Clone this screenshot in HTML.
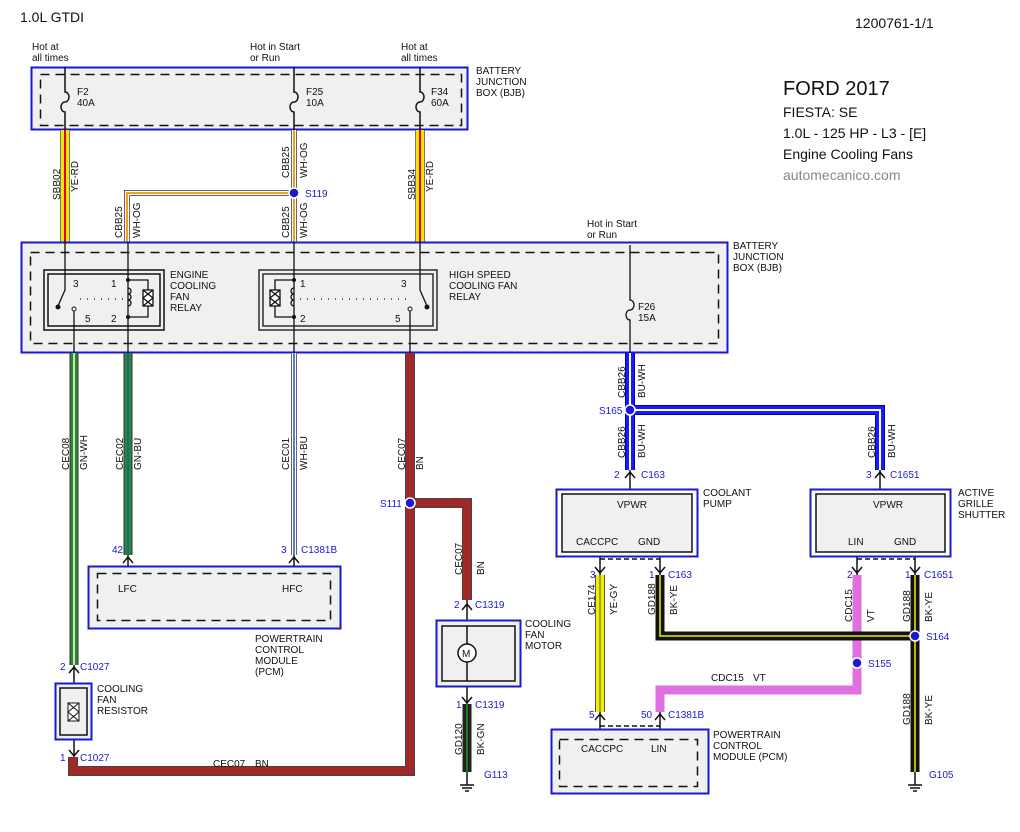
<!DOCTYPE html>
<html><head><meta charset="utf-8"><style>
html,body{margin:0;padding:0;background:#fff}
svg{display:block}
text{font-family:"Liberation Sans",sans-serif;font-size:10px;fill:#111}
.b{fill:#1a1ad0}
.t{font-size:20px}
.m{font-size:14px}
</style></head><body>
<svg width="1020" height="832" viewBox="0 0 1020 832" xmlns="http://www.w3.org/2000/svg">
<text x="20" y="22" class="m">1.0L GTDI</text>
<text x="855" y="28" class="m">1200761-1/1</text>
<text x="783" y="95" class="t">FORD 2017</text>
<text x="783" y="117" class="m">FIESTA: SE</text>
<text x="783" y="138" class="m">1.0L - 125 HP - L3 - [E]</text>
<text x="783" y="159" class="m">Engine Cooling Fans</text>
<text x="783" y="180" class="m" style="fill:#888">automecanico.com</text>

<rect x="31.5" y="67.5" width="436" height="62" fill="#f0f0f0" stroke="#1a1ad0" stroke-width="2"/>
<rect x="40.5" y="74.5" width="421" height="51" fill="none" stroke="#111" stroke-width="1.5" stroke-dasharray="9,6"/>
<text x="32" y="50">Hot at</text><text x="32" y="61">all times</text>
<text x="250" y="50">Hot in Start</text><text x="250" y="61">or Run</text>
<text x="401" y="50">Hot at</text><text x="401" y="61">all times</text>
<text x="476" y="74">BATTERY</text><text x="476" y="85">JUNCTION</text><text x="476" y="96">BOX (BJB)</text>
<text x="77" y="95">F2</text><text x="77" y="106">40A</text>
<text x="306" y="95">F25</text><text x="306" y="106">10A</text>
<text x="431" y="95">F34</text><text x="431" y="106">60A</text>
<g stroke="#111" stroke-width="1.5" fill="none">
<path d="M65 67V92a4 5 0 0 1 0 10a4 5 0 0 0 0 10V130"/>
<path d="M294 67V92a4 5 0 0 1 0 10a4 5 0 0 0 0 10V130"/>
<path d="M420 67V92a4 5 0 0 1 0 10a4 5 0 0 0 0 10V130"/>
</g>

<g fill="none">
<path d="M65 130V242M420 130V242" stroke="#777" stroke-width="10"/>
<path d="M65 130V242M420 130V242" stroke="#f5e600" stroke-width="8"/>
<path d="M65 130V242M420 130V242" stroke="#e00000" stroke-width="2"/>
<path d="M294 130V242M294 193H127V242" stroke="#333" stroke-width="6"/>
<path d="M294 130V242M294 193H127V242" stroke="#fff" stroke-width="4.5"/>
<path d="M294 130V242M294 193H127V242" stroke="#f0a020" stroke-width="2"/>
</g>
<circle cx="294" cy="193" r="5" fill="#1a1ad0" stroke="#fff" stroke-width="1.5"/>
<text x="305" y="197" class="b">S119</text>
<g font-size="10">
<text transform="translate(60,200) rotate(-90)">SBB02</text><text transform="translate(78,192) rotate(-90)">YE-RD</text>
<text transform="translate(415,200) rotate(-90)">SBB34</text><text transform="translate(433,192) rotate(-90)">YE-RD</text>
<text transform="translate(289,178) rotate(-90)">CBB25</text><text transform="translate(307,178) rotate(-90)">WH-OG</text>
<text transform="translate(289,238) rotate(-90)">CBB25</text><text transform="translate(307,238) rotate(-90)">WH-OG</text>
<text transform="translate(122,238) rotate(-90)">CBB25</text><text transform="translate(140,238) rotate(-90)">WH-OG</text>
</g>

<rect x="21.5" y="242.5" width="706" height="110" fill="#f0f0f0" stroke="#1a1ad0" stroke-width="2"/>
<rect x="30.5" y="252.5" width="688" height="91" fill="none" stroke="#111" stroke-width="1.5" stroke-dasharray="9,6"/>
<text x="733" y="249">BATTERY</text><text x="733" y="260">JUNCTION</text><text x="733" y="271">BOX (BJB)</text>
<text x="587" y="227">Hot in Start</text><text x="587" y="238">or Run</text>
<rect x="44" y="270" width="120" height="60" fill="none" stroke="#111" stroke-width="1.5"/>
<rect x="48" y="274" width="112" height="52" fill="none" stroke="#111" stroke-width="1.5"/>
<text x="170" y="278">ENGINE</text><text x="170" y="289">COOLING</text><text x="170" y="300">FAN</text><text x="170" y="311">RELAY</text>
<text x="73" y="287">3</text><text x="111" y="287">1</text><text x="85" y="322">5</text><text x="111" y="322">2</text>
<g stroke="#111" stroke-width="1.3" fill="none">
<path d="M65 242V290L58 306"/><path d="M74 310V353"/><path d="M128 242V353"/>
<path d="M128 280H148V317H128"/><rect x="143" y="290" width="10" height="16" fill="#fff"/>
<path d="M143 290L153 298L143 306M153 290L143 298L153 306"/>
<path d="M128 288a3 3 0 0 1 0 6a3 3 0 0 1 0 6a3 3 0 0 1 0 6"/>
<path d="M80 299H125" stroke-dasharray="1,6"/>
<rect x="259" y="270" width="178" height="60"/><rect x="263" y="274" width="170" height="52"/>
<path d="M294 242V353"/><path d="M420 242V290L427 306"/><path d="M410 310V353"/>
<path d="M294 280H275V317H294"/><rect x="270" y="290" width="10" height="16" fill="#fff"/>
<path d="M270 290L280 298L270 306M280 290L270 298L280 306"/>
<path d="M294 288a3 3 0 0 0 0 6a3 3 0 0 0 0 6a3 3 0 0 0 0 6"/>
<path d="M300 299H408" stroke-dasharray="1,6"/>
<path d="M630 245V300a4 5 0 0 1 0 10a4 5 0 0 0 0 10V353"/>
</g>
<g fill="#111"><circle cx="128" cy="280" r="2"/><circle cx="128" cy="317" r="2"/><circle cx="294" cy="280" r="2"/><circle cx="294" cy="317" r="2"/><circle cx="58" cy="307" r="2.5"/><circle cx="427" cy="307" r="2.5"/></g>
<circle cx="74" cy="309" r="2" fill="#fff" stroke="#111"/><circle cx="410" cy="309" r="2" fill="#fff" stroke="#111"/>
<text x="449" y="278">HIGH SPEED</text><text x="449" y="289">COOLING FAN</text><text x="449" y="300">RELAY</text>
<text x="300" y="287">1</text><text x="401" y="287">3</text><text x="300" y="322">2</text><text x="395" y="322">5</text>
<text x="638" y="310">F26</text><text x="638" y="321">15A</text>

<g fill="none">
<path d="M74 353V665M128 353V555" stroke="#333" stroke-width="9"/>
<path d="M74 353V665" stroke="#2a8a2a" stroke-width="7"/><path d="M74 353V665" stroke="#fff" stroke-width="1.5"/>
<path d="M128 353V555" stroke="#2a8a2a" stroke-width="7"/><path d="M128 353V555" stroke="#2050d0" stroke-width="1.5"/>
<path d="M294 353V555" stroke="#333" stroke-width="6"/><path d="M294 353V555" stroke="#fff" stroke-width="4.5"/><path d="M294 353V555" stroke="#2050d0" stroke-width="1.5"/>
<path d="M410 353V771H73V757M410 503H467V600" stroke="#444" stroke-width="10"/>
<path d="M410 353V771H73V757M410 503H467V600" stroke="#a02828" stroke-width="8"/>
<path d="M467 704V772" stroke="#222" stroke-width="9"/><path d="M467 704V772" stroke="#1a7a1a" stroke-width="2"/>
<path d="M630 353V470M630 410H880V470" stroke="#0000a0" stroke-width="10"/>
<path d="M630 353V470M630 410H880V470" stroke="#1a1aff" stroke-width="8"/>
<path d="M630 353V470M630 410H880V470" stroke="#fff" stroke-width="2"/>
<path d="M600 575V712" stroke="#555" stroke-width="10"/><path d="M600 575V712" stroke="#f0f000" stroke-width="8"/><path d="M600 575V712" stroke="#555" stroke-width="1"/>
<path d="M857 575V690H660V712" stroke="#e070e0" stroke-width="9"/>
<path d="M660 575V636H915M915 575V772" stroke="#111" stroke-width="9"/>
<path d="M660 575V636H915M915 575V772" stroke="#f0f000" stroke-width="1.5"/>
</g>
<circle cx="410" cy="503" r="5" fill="#1a1ad0" stroke="#fff" stroke-width="1.5"/><text x="380" y="507" class="b">S111</text>
<circle cx="630" cy="410" r="5" fill="#1a1ad0" stroke="#fff" stroke-width="1.5"/><text x="599" y="414" class="b">S165</text>
<circle cx="857" cy="663" r="5" fill="#1a1ad0" stroke="#fff" stroke-width="1.5"/><text x="868" y="667" class="b">S155</text>
<circle cx="915" cy="636" r="5" fill="#1a1ad0" stroke="#fff" stroke-width="1.5"/><text x="926" y="640" class="b">S164</text>
<g>
<text transform="translate(69,470) rotate(-90)">CEC08</text><text transform="translate(87,470) rotate(-90)">GN-WH</text>
<text transform="translate(123,470) rotate(-90)">CEC02</text><text transform="translate(141,470) rotate(-90)">GN-BU</text>
<text transform="translate(289,470) rotate(-90)">CEC01</text><text transform="translate(307,470) rotate(-90)">WH-BU</text>
<text transform="translate(405,470) rotate(-90)">CEC07</text><text transform="translate(423,470) rotate(-90)">BN</text>
<text transform="translate(462,575) rotate(-90)">CEC07</text><text transform="translate(484,575) rotate(-90)">BN</text>
<text transform="translate(462,755) rotate(-90)">GD120</text><text transform="translate(484,755) rotate(-90)">BK-GN</text>
<text transform="translate(625,398) rotate(-90)">CBB26</text><text transform="translate(645,398) rotate(-90)">BU-WH</text>
<text transform="translate(625,458) rotate(-90)">CBB26</text><text transform="translate(645,458) rotate(-90)">BU-WH</text>
<text transform="translate(875,458) rotate(-90)">CBB26</text><text transform="translate(895,458) rotate(-90)">BU-WH</text>
<text transform="translate(595,615) rotate(-90)">CE174</text><text transform="translate(617,615) rotate(-90)">YE-GY</text>
<text transform="translate(655,615) rotate(-90)">GD188</text><text transform="translate(677,615) rotate(-90)">BK-YE</text>
<text transform="translate(852,622) rotate(-90)">CDC15</text><text transform="translate(874,622) rotate(-90)">VT</text>
<text transform="translate(910,622) rotate(-90)">GD188</text><text transform="translate(932,622) rotate(-90)">BK-YE</text>
<text transform="translate(910,725) rotate(-90)">GD188</text><text transform="translate(932,725) rotate(-90)">BK-YE</text>
<text x="213" y="767">CEC07</text><text x="255" y="767">BN</text>
<text x="711" y="681">CDC15</text><text x="753" y="681">VT</text>
</g>

<g>
<text x="614" y="478" class="b">2</text><text x="641" y="478" class="b">C163</text>
<text x="866" y="478" class="b">3</text><text x="890" y="478" class="b">C1651</text>
<text x="112" y="553" class="b">42</text>
<text x="281" y="553" class="b">3</text><text x="301" y="553" class="b">C1381B</text>
<text x="60" y="670" class="b">2</text><text x="80" y="670" class="b">C1027</text>
<text x="60" y="761" class="b">1</text><text x="80" y="761" class="b">C1027</text>
<text x="454" y="608" class="b">2</text><text x="475" y="608" class="b">C1319</text>
<text x="456" y="708" class="b">1</text><text x="475" y="708" class="b">C1319</text>
<text x="484" y="778" class="b">G113</text>
<text x="590" y="578" class="b">3</text>
<text x="649" y="578" class="b">1</text><text x="668" y="578" class="b">C163</text>
<text x="847" y="578" class="b">2</text>
<text x="905" y="578" class="b">1</text><text x="924" y="578" class="b">C1651</text>
<text x="589" y="718" class="b">5</text>
<text x="641" y="718" class="b">50</text><text x="668" y="718" class="b">C1381B</text>
<text x="929" y="778" class="b">G105</text>
</g>
<g stroke="#111" stroke-width="1.5" fill="none">
<path d="M630 470V490M625 478L630 472L635 478"/><path d="M880 470V490M875 478L880 472L885 478"/>
<path d="M128 555V566M123 563L128 557L133 563"/><path d="M294 555V566M289 563L294 557L299 563"/>
<path d="M74 665V683M69 673L74 667L79 673"/><path d="M74 740V757M69 750L74 756L79 750"/>
<path d="M467 600V620M462 610L467 604L472 610"/><path d="M467 686V704M462 697L467 703L472 697"/>
<path d="M600 557V575M595 567L600 573L605 567"/><path d="M660 557V575M655 567L660 573L665 567"/>
<path d="M857 557V575M852 567L857 573L862 567"/><path d="M915 557V575M910 567L915 573L920 567"/>
<path d="M600 712V740M595 720L600 714L605 720"/><path d="M660 712V740M655 720L660 714L665 720"/>
<path d="M600 559H660M857 559H915M600 726H660" stroke-dasharray="5,3"/>
<path d="M467 772V785M460 785H474M462 788H472M465 791H469"/>
<path d="M915 772V785M908 785H922M910 788H920M913 791H917"/>
</g>

<rect x="88.5" y="566.5" width="252" height="62" fill="#f0f0f0" stroke="#1a1ad0" stroke-width="2"/>
<rect x="97.5" y="573.5" width="233" height="47" fill="none" stroke="#111" stroke-width="1.5" stroke-dasharray="9,6"/>
<text x="118" y="592">LFC</text><text x="282" y="592">HFC</text>
<text x="255" y="642">POWERTRAIN</text><text x="255" y="653">CONTROL</text><text x="255" y="664">MODULE</text><text x="255" y="675">(PCM)</text>
<rect x="55.5" y="683.5" width="36" height="56" fill="#f0f0f0" stroke="#1a1ad0" stroke-width="2"/>
<rect x="60" y="688" width="27" height="47" fill="none" stroke="#111" stroke-width="1.5"/>
<rect x="68" y="703" width="11" height="18" fill="#fff" stroke="#111"/>
<path d="M68 703L79 712L68 721M79 703L68 712L79 721" stroke="#111" fill="none"/>
<text x="97" y="692">COOLING</text><text x="97" y="703">FAN</text><text x="97" y="714">RESISTOR</text>
<rect x="436.5" y="620.5" width="84" height="66" fill="#f0f0f0" stroke="#1a1ad0" stroke-width="2"/>
<rect x="442" y="626" width="73" height="55" fill="none" stroke="#111" stroke-width="1.5"/>
<circle cx="467" cy="653" r="9" fill="#fff" stroke="#111" stroke-width="1.5"/><text x="462" y="657">M</text>
<path d="M467 626V644M467 662V681" stroke="#111" stroke-width="1.5"/>
<text x="525" y="627">COOLING</text><text x="525" y="638">FAN</text><text x="525" y="649">MOTOR</text>
<rect x="556.5" y="489.5" width="141" height="67" fill="#fff" stroke="#1a1ad0" stroke-width="2"/>
<rect x="562" y="494" width="130" height="58" fill="#f0f0f0" stroke="#111" stroke-width="1.5"/>
<text x="617" y="508">VPWR</text><text x="576" y="545">CACCPC</text><text x="638" y="545">GND</text>
<text x="703" y="496">COOLANT</text><text x="703" y="507">PUMP</text>
<rect x="810.5" y="489.5" width="140" height="67" fill="#fff" stroke="#1a1ad0" stroke-width="2"/>
<rect x="816" y="494" width="129" height="58" fill="#f0f0f0" stroke="#111" stroke-width="1.5"/>
<text x="873" y="508">VPWR</text><text x="848" y="545">LIN</text><text x="894" y="545">GND</text>
<text x="958" y="496">ACTIVE</text><text x="958" y="507">GRILLE</text><text x="958" y="518">SHUTTER</text>
<rect x="551.5" y="729.5" width="157" height="64" fill="#f0f0f0" stroke="#1a1ad0" stroke-width="2"/>
<rect x="559.5" y="739.5" width="138" height="47" fill="none" stroke="#111" stroke-width="1.5" stroke-dasharray="9,6"/>
<text x="581" y="752">CACCPC</text><text x="651" y="752">LIN</text>
<text x="713" y="738">POWERTRAIN</text><text x="713" y="749">CONTROL</text><text x="713" y="760">MODULE (PCM)</text>
</svg>
</body></html>
